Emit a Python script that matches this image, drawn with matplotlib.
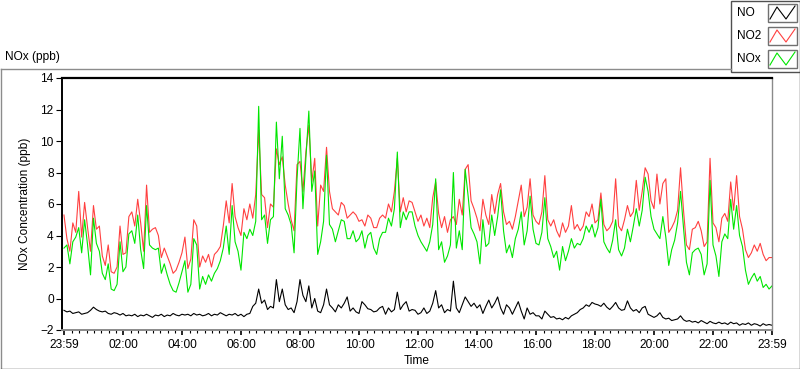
import matplotlib
matplotlib.use("Agg")
import matplotlib.pyplot as plt
import numpy as np
from matplotlib.lines import Line2D
from matplotlib.patches import Rectangle

# samples every 6 minutes, starting at 23:59 of the previous day
minutes = np.arange(0, 1441, 6)

no2 = [
    5.3, 3.8, 3.0, 4.8, 4.2, 6.8, 3.9, 6.1, 4.5, 3.0,
    5.9, 4.4, 4.6, 2.7, 2.1, 3.4, 1.7, 1.6, 2.0, 4.6,
    2.8, 2.9, 5.2, 5.5, 4.6, 6.3, 4.8, 3.0, 7.2, 4.2,
    4.4, 4.5, 4.0, 2.6, 3.2, 2.7, 2.2, 1.6, 1.8, 2.3,
    2.9,
    3.9, 1.9, 2.5, 5.0, 4.6, 2.0, 2.7, 2.3, 2.8, 2.0,
    2.8, 3.0, 3.3, 4.6, 6.2, 4.8, 7.3, 5.2, 4.5, 4.0,
    5.7, 5.0, 6.0, 5.1, 6.6, 10.7, 6.6, 6.4, 4.5, 6.0,
    5.8, 9.5, 8.5, 9.0, 7.2, 6.0, 5.0, 4.3, 8.5, 8.7,
    6.8, 9.3, 11.0, 7.4, 8.9, 4.6, 7.2, 6.8, 9.6, 6.8,
    5.7, 5.5, 5.3, 6.1, 5.9, 5.1, 5.3, 5.5, 5.3, 4.9,
    5.0, 4.6, 5.3, 5.1, 4.5, 4.5, 5.1, 5.3, 5.1, 6.0,
    5.5, 6.8, 8.9, 5.5, 6.4, 5.5, 6.2, 6.1, 5.5, 4.9,
    5.3, 4.6, 5.1, 4.5, 6.4, 7.4, 5.4, 4.5, 5.2, 4.2,
    5.0, 5.2, 4.7, 6.3, 5.3, 8.2, 8.5, 6.2, 5.7, 5.1,
    4.3, 6.3, 5.3, 4.7, 6.6, 5.4, 6.6, 7.3, 5.5, 4.7,
    4.9, 4.4, 5.2, 6.2, 7.2, 5.2, 5.8, 7.6, 5.3, 4.9,
    4.7, 5.5, 7.8, 5.0, 4.6, 5.0, 4.3, 3.9, 4.8, 4.2,
    4.6, 5.9, 4.4, 4.7, 4.3, 4.6, 5.5, 5.2, 6.0, 4.8,
    5.0, 6.7, 4.7, 4.3, 4.5, 4.9, 7.6, 4.6, 4.3, 5.0,
    5.9, 5.2, 5.5, 7.5, 5.6, 6.8, 8.3, 7.9, 6.2, 5.7,
    7.9, 6.0, 7.3, 7.6, 4.2, 4.5, 4.9, 5.6, 8.3, 5.6,
    3.4, 3.1, 4.4, 4.5, 4.9, 4.3, 3.3, 3.6, 8.9, 4.8,
    4.5, 3.6, 5.1, 5.4, 4.9, 7.4, 5.6, 7.8, 5.2, 4.4,
    3.1, 2.6, 2.9, 3.4, 3.0, 3.5, 2.8, 2.4, 2.6, 2.6,
]

nox = [
    3.2, 3.4, 2.2, 3.6, 3.9, 4.5, 2.9, 5.0, 3.4, 1.5,
    5.1, 3.5, 3.0, 1.6, 1.2, 2.2, 0.6, 0.5, 0.9, 3.6,
    1.7, 2.0, 4.1, 4.3, 3.5, 5.3, 3.1, 1.9, 5.9, 3.4,
    3.2, 3.1, 3.2, 1.6, 2.2, 1.5, 0.9, 0.5, 0.4, 1.0,
    1.7,
    2.4, 0.4, 0.9, 3.8, 3.4, 0.6, 1.4, 0.9, 1.5, 1.1,
    1.6, 1.9, 2.4, 3.2, 4.6, 2.8, 5.9, 3.6, 3.0, 1.8,
    4.2, 3.8, 4.4, 4.0, 4.9, 12.2, 5.0, 5.3, 3.5, 5.0,
    5.2, 11.2, 7.6, 10.3, 5.7, 5.3, 4.7, 2.9, 7.6, 10.8,
    5.7, 8.9, 11.9, 6.8, 8.1, 2.8, 3.6, 4.9, 9.1, 4.7,
    4.4, 3.6, 4.3, 5.0, 4.9, 3.8, 3.8, 4.3, 3.6, 3.8,
    4.3, 3.2, 4.0, 4.2, 3.2, 2.8, 3.8, 4.2, 4.2, 5.1,
    4.6, 5.7, 9.3, 4.5, 5.5, 5.0, 5.5, 5.5, 4.6, 4.0,
    3.6, 3.3, 3.0, 3.6, 4.7, 7.6, 3.1, 3.6, 2.3, 2.7,
    3.4, 8.0, 3.2, 4.3, 3.1, 8.2, 6.5, 4.5, 4.1, 3.6,
    2.2, 5.0, 3.3, 3.5, 5.3, 4.0, 5.2, 6.9, 4.3, 2.9,
    3.4, 2.6, 3.8, 4.4, 5.5, 3.4, 4.3, 6.5, 4.4, 3.5,
    3.4, 4.2, 6.4, 3.8, 3.3, 2.6, 3.0, 1.8, 3.3, 2.4,
    3.0, 3.8, 3.2, 3.5, 3.4, 3.8, 4.6, 4.2, 4.7, 3.9,
    4.5, 6.3, 3.6, 3.2, 2.9, 3.7, 5.0, 3.1, 2.7, 3.2,
    4.4, 3.6, 4.6, 5.7, 4.6, 5.6, 7.7, 6.8, 5.2, 4.4,
    4.1, 3.8, 5.2, 3.9, 2.1, 3.1, 3.7, 4.8, 6.8, 4.5,
    2.3, 1.5, 2.9, 3.1, 3.2, 2.8, 1.5, 2.2, 7.5, 3.4,
    2.7, 1.4, 3.6, 4.1, 3.8, 6.3, 4.4, 5.9, 4.0, 3.3,
    1.8, 0.9, 1.3, 1.6, 1.1, 1.4, 0.7, 0.9, 0.6, 0.8,
]

no = [
    -0.75, -0.85, -0.8, -0.95, -0.9, -0.85, -1.0, -0.95, -0.9, -0.75,
    -0.55, -0.7, -0.8, -0.85, -0.8, -0.95, -1.0, -0.9, -0.95, -1.05,
    -0.95, -1.1, -1.05, -1.1, -1.0, -1.15, -1.05, -1.1, -1.0, -1.1,
    -1.2, -1.05, -1.1, -1.0, -1.15, -1.05, -1.1, -0.95, -1.05, -1.1,
    -1.0,
    -1.05, -1.0, -1.1, -0.95, -1.05, -1.0, -1.1, -1.05, -0.95, -1.1,
    -1.0, -1.05, -0.9, -1.0, -1.1, -1.0, -1.05, -0.95, -1.1, -1.0,
    -1.15, -1.0, -0.95, -0.5, -0.3, 0.6, -0.3, -0.1, -0.7, -0.5,
    -0.6, 1.2, -0.2, 0.6, -0.4, -0.7, -0.6, -0.9, -0.2, 1.2,
    0.2, -0.2, 0.8, -0.6, 0.0, -0.8, -0.9, -0.4, 0.6, -0.4,
    -0.6, -0.85, -0.4, -0.6, -0.3, 0.1, -0.8, -0.6, -0.85, -0.95,
    -0.2, -0.4, -0.65, -0.7, -0.85, -0.8, -0.6, -0.5, -1.0, -0.6,
    -0.85, -0.7, 0.4, -0.7, -0.4, -0.2, -0.8, -0.7, -0.75, -1.0,
    -0.9, -0.6, -0.95, -0.8, -0.3, 0.5, -0.6, -0.4, -0.9, -0.7,
    -0.8, 1.1, -0.6, -0.9, -0.4, 0.1, -0.2, -0.5, -0.3, -0.6,
    -0.4, -0.95, -0.5, -0.1, -0.6, -0.3, 0.1, -0.6, -1.0, -0.4,
    -0.6, -1.0, -0.6, -0.2, -0.8, -1.3, -0.6, -1.0, -0.9, -1.1,
    -1.1, -1.3, -0.8, -1.0, -1.2, -1.15, -1.3, -1.25, -1.35, -1.2,
    -1.3, -1.1, -1.0, -0.9, -0.7, -0.6, -0.4, -0.5, -0.25, -0.35,
    -0.4, -0.5, -0.3, -0.55, -0.7, -0.5, -0.25, -0.6, -0.75, -0.7,
    -0.15, -0.6, -0.8, -0.7, -0.9, -0.6, -0.5, -1.0, -1.1, -1.2,
    -1.1, -0.9, -1.2, -1.3, -1.25, -1.4, -1.35, -1.3, -1.1, -1.35,
    -1.45, -1.4, -1.5, -1.45, -1.55, -1.4, -1.5, -1.6, -1.45, -1.55,
    -1.6, -1.5, -1.6, -1.55, -1.65, -1.5, -1.6, -1.55, -1.7, -1.6,
    -1.65, -1.55, -1.7, -1.6, -1.65, -1.75, -1.6, -1.7, -1.65, -1.7,
]

tick_minutes = [0, 121, 241, 361, 481, 601, 721, 841, 961, 1081, 1201, 1321, 1440]
tick_labels = ["23:59", "02:00", "04:00", "06:00", "08:00", "10:00", "12:00",
               "14:00", "16:00", "18:00", "20:00", "22:00", "23:59"]
series_names = ["NO", "NO2", "NOx"]
series_colors = ["black", "#ff4040", "#00e600"]

plt.rcParams['font.family'] = ['Liberation Sans', 'DejaVu Sans']
plt.rcParams['font.size'] = 8.6

W, H = 800, 369
fig = plt.figure(figsize=(W / 100, H / 100), dpi=100)

def fx(px):
    return px / W

def fy(py):
    return 1 - py / H

ax = fig.add_axes([fx(62), fy(330), fx(710), 252 / H])

for vals, col in zip([no, no2, nox], series_colors):
    ax.plot(minutes, vals, color=col, lw=0.8)

ax.set_xlim(-4, 1440)
ax.set_ylim(-2, 14)
ax.set_yticks(range(-2, 15, 2))
ax.set_xticks(tick_minutes)
ax.set_xticklabels(tick_labels)
ax.set_xticks(np.arange(16, 1440, 15), minor=True)
ax.tick_params(axis='y', direction='out', length=4.5, width=0.8, pad=1.5)
ax.tick_params(axis='x', which='major', direction='out', length=3.8, width=1.2, pad=2.5)
ax.tick_params(axis='x', which='minor', direction='out', length=2.2, width=0.8)

ax.spines['top'].set_linewidth(1.6)
ax.spines['left'].set_linewidth(1.4)
ax.spines['right'].set_color('#8a8a8a')
ax.spines['bottom'].set_color('#8a8a8a')
ax.spines['right'].set_linewidth(1.0)
ax.spines['bottom'].set_linewidth(1.4)

ax.set_ylabel("NOx Concentration (ppb)")
ax.yaxis.set_label_coords(-0.043, 0.5)
ax.set_xlabel("Time")
ax.xaxis.set_label_coords(0.5, -0.098)

# outer panel frame
frame_col = '#8c8c8c'
fig.add_artist(Line2D([fx(0.5), fx(731)], [fy(69), fy(69)], color=frame_col, lw=1))
fig.add_artist(Line2D([fx(0.5), fx(0.5)], [fy(69), fy(368.5)], color=frame_col, lw=1))
fig.add_artist(Line2D([fx(0.5), fx(799.5)], [fy(368.5), fy(368.5)], color='#404040', lw=1))
fig.add_artist(Line2D([fx(799.5), fx(799.5)], [fy(72), fy(368.5)], color='#404040', lw=1))
fig.text(fx(5), fy(57), "NOx (ppb)", ha='left', va='center')

# legend panel
fig.add_artist(Rectangle((fx(731), fy(72)), fx(68.5), 71.5 / H, transform=fig.transFigure,
                         facecolor='white', edgecolor='#505050', lw=1))
for k, (name, col) in enumerate(zip(series_names, series_colors)):
    top = 4 + 23 * k
    bot = top + 18
    fig.text(fx(737), fy((top + bot) / 2), name, ha='left', va='center')
    fig.add_artist(Rectangle((fx(768), fy(bot)), fx(29), 18 / H, transform=fig.transFigure,
                             facecolor='white', edgecolor='#707070', lw=1))
    zx = [770, 777, 786, 795]
    zy = [bot - 3, top + 3, bot - 3, top + 2]
    fig.add_artist(Line2D([fx(v) for v in zx], [fy(v) for v in zy], color=col, lw=0.8))

fig.savefig("out.png", dpi=100)
